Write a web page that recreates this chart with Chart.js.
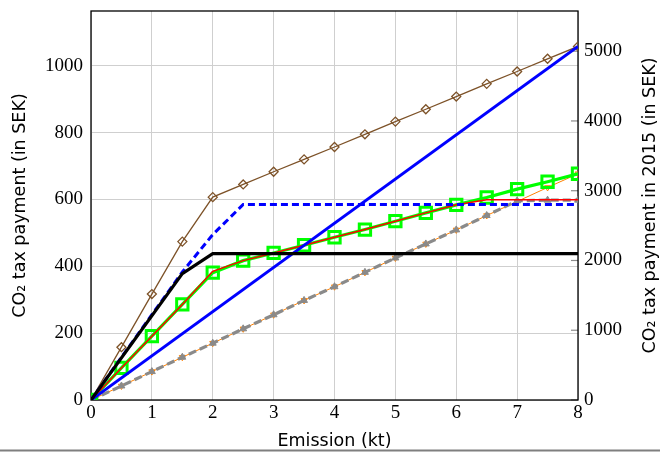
<!DOCTYPE html>
<html>
<head>
<meta charset="utf-8">
<script src="https://cdn.jsdelivr.net/npm/chart.js@4/dist/chart.umd.min.js"></script>
<style>
  html, body { margin: 0; padding: 0; background: #ffffff; }
  canvas { display: block; }
</style>
</head>
<body>
<canvas id="c" width="660" height="452"></canvas>
<script>
// ---- data ----
const halfSteps = [0, 0.5, 1, 1.5, 2, 2.5, 3, 3.5, 4, 4.5, 5, 5.5, 6, 6.5, 7, 7.5, 8];
const brownValues = [0, 158, 317, 474, 607, 645, 683, 720, 757, 795, 833, 870, 908, 946, 983, 1021, 1058];
const greenValues = [0, 96, 191, 286, 381, 417, 440, 463, 487, 510, 535, 560, 584, 606, 631, 653, 677];
const redValues   = [0, 96, 191, 286, 385, 417, 440, 463, 487, 510, 535, 560, 584, 599, 599, 599, 599];
const grayValues  = [0, 42, 85, 128, 170, 213, 255, 298, 339, 382, 425, 467, 509, 552, 596, 598, 598];
const orangeValues = [0, 42, 85, 128, 170, 213, 255, 298, 339, 382, 425, 467, 509, 552, 594, 636, 677];
const blueX = [0, 8];
const blueValues = [0, 1058];
const blueDashX = [0, 1.5, 2, 2.5, 8];
const blueDashValues = [0, 383, 495, 585, 585];
const blackX = [0, 1.5, 2, 8];
const blackValues = [0, 378, 438, 438];
const xTicks = [0, 1, 2, 3, 4, 5, 6, 7, 8];
const leftTicks = [0, 200, 400, 600, 800, 1000];
const rightTicks = [0, 1000, 2000, 3000, 4000, 5000];
const rightTitle = 'CO₂ tax payment in 2015 (in SEK)';

const pts = (xs, ys) => xs.map((x, i) => ({ x: x, y: ys[i] }));

const tickFont = { family: "'Liberation Serif', serif", size: 19 };
const titleFont = { family: "'DejaVu Sans', sans-serif", size: 17.5 };
const gridColor = '#cfcfcf';

const framePlugin = {
  id: 'frame',
  beforeDatasetsDraw(chart) {
    const { ctx, chartArea: a } = chart;
    ctx.save();
    // inward ticks of the right axis
    const s = chart.scales.y1;
    ctx.strokeStyle = '#8c8c8c';
    ctx.lineWidth = 1.2;
    rightTicks.forEach(v => {
      const y = s.getPixelForValue(v);
      ctx.beginPath();
      ctx.moveTo(a.right - 7, y);
      ctx.lineTo(a.right, y);
      ctx.stroke();
    });
    ctx.strokeStyle = '#000000';
    ctx.lineWidth = 1.3;
    ctx.strokeRect(a.left, a.top, a.right - a.left, a.bottom - a.top);
    ctx.restore();
  },
  afterDraw(chart) {
    const { ctx, width, chartArea: a } = chart;
    ctx.save();
    // right axis title, read bottom-to-top like the left one
    ctx.translate(650, (a.top + a.bottom) / 2);
    ctx.rotate(-Math.PI / 2);
    ctx.font = titleFont.size + 'px ' + titleFont.family;
    ctx.fillStyle = '#000';
    ctx.textAlign = 'center';
    ctx.textBaseline = 'middle';
    ctx.fillText(rightTitle, 0, 0);
    ctx.restore();
    ctx.save();
    ctx.fillStyle = '#7f7f7f';
    ctx.fillRect(0, 449.5, width, 2);
    ctx.restore();
  }
};

const noPad = s => { s.paddingTop = 0; s.paddingBottom = 0; s.paddingLeft = 0; s.paddingRight = 0; };

new Chart(document.getElementById('c'), {
  type: 'line',
  data: {
    datasets: [
      {
        data: pts(halfSteps, brownValues), order: 9,
        borderColor: '#7d5228', borderWidth: 1.3,
        pointStyle: 'rectRot', pointRadius: 4.5, pointBorderWidth: 1.3,
        pointBorderColor: '#7d5228', pointBackgroundColor: 'rgba(0,0,0,0)'
      },
      {
        data: pts(halfSteps, orangeValues), order: 8,
        borderColor: '#ff8000', borderWidth: 1,
        pointStyle: 'triangle', pointRotation: 180, pointRadius: 3.5, pointBorderWidth: 1,
        pointBorderColor: '#ff8000', pointBackgroundColor: 'rgba(0,0,0,0)'
      },
      {
        data: pts(halfSteps, grayValues), order: 7,
        borderColor: '#8a8a8a', borderWidth: 3.2, borderDash: [8, 4],
        pointStyle: 'triangle', pointRadius: 4, pointBorderWidth: 1,
        pointBorderColor: '#8a8a8a', pointBackgroundColor: '#8a8a8a'
      },
      {
        data: pts(halfSteps, greenValues), order: 6,
        borderColor: '#00ff00', borderWidth: 3.2,
        pointStyle: 'rect', pointRadius: 8, pointBorderWidth: 3,
        pointBorderColor: '#00ff00', pointBackgroundColor: 'rgba(0,0,0,0)'
      },
      {
        data: pts(halfSteps, redValues), order: 5,
        borderColor: '#ff0000', borderWidth: 1.5, pointRadius: 0
      },
      {
        data: pts(blueX, blueValues), order: 4,
        borderColor: '#0000ff', borderWidth: 3, pointRadius: 0
      },
      {
        data: pts(blueDashX, blueDashValues), order: 3,
        borderColor: '#0000ff', borderWidth: 3, borderDash: [7, 4], pointRadius: 0
      },
      {
        data: pts(blackX, blackValues), order: 2,
        borderColor: '#000000', borderWidth: 3.2, pointRadius: 0
      }
    ]
  },
  options: {
    responsive: false,
    animation: false,
    devicePixelRatio: 1,
    layout: { padding: { top: 6, bottom: 0, left: 0, right: 0 } },
    plugins: { legend: { display: false }, tooltip: { enabled: false }, title: { display: false } },
    elements: { line: { tension: 0 } },
    scales: {
      x: {
        type: 'linear', min: 0, max: 8,
        afterFit(s) { s.height = 52; noPad(s); },
        afterBuildTicks(s) { s.ticks = xTicks.map(v => ({ value: v })); },
        grid: { color: gridColor, lineWidth: 1, drawTicks: false },
        border: { display: false },
        ticks: { font: tickFont, color: '#000', padding: 2, maxRotation: 0, callback: v => String(v) },
        title: { display: true, text: 'Emission (kt)', font: titleFont, color: '#000', padding: { top: 0, bottom: 0 } }
      },
      y: {
        type: 'linear', position: 'left', min: 0, max: 1164,
        afterFit(s) { s.width = 91; noPad(s); },
        afterBuildTicks(s) { s.ticks = leftTicks.map(v => ({ value: v })); },
        grid: { color: gridColor, lineWidth: 1, drawTicks: false },
        border: { display: false },
        ticks: { font: tickFont, color: '#000', padding: 8, callback: v => String(v) },
        title: { display: true, text: 'CO₂ tax payment (in SEK)', font: titleFont, color: '#000', padding: { top: 10, bottom: 0 } }
      },
      y1: {
        type: 'linear', position: 'right', min: 0, max: 5576,
        afterFit(s) { s.width = 82; noPad(s); },
        afterBuildTicks(s) { s.ticks = rightTicks.map(v => ({ value: v })); },
        grid: { drawOnChartArea: false, drawTicks: false },
        border: { display: false },
        ticks: { font: tickFont, color: '#000', padding: 6, callback: v => String(v) },
        title: { display: false }
      }
    }
  },
  plugins: [framePlugin]
});
</script>
</body>
</html>
